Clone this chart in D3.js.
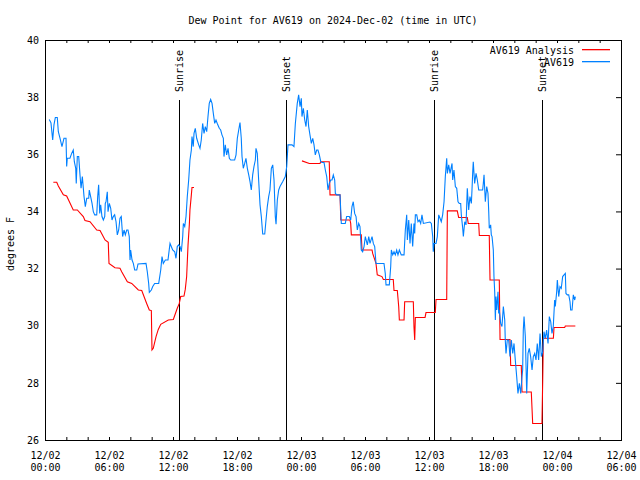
<!DOCTYPE html>
<html><head><meta charset="utf-8">
<script src="https://cdn.jsdelivr.net/npm/d3@7"></script>
<style>body{margin:0;background:#fff}svg{display:block}</style>
</head><body>
<script>
const title = "Dew Point for AV619 on 2024-Dec-02 (time in UTC)";
const yLabel = "degrees F";
const seriesNames = ["AV619 Analysis", "AV619"];
const yTicks = [26, 28, 30, 32, 34, 36, 38, 40];
const xTickHours = [0, 6, 12, 18, 24, 30, 36, 42, 48, 54];
const xTickDates = ["12/02","12/02","12/02","12/02","12/03","12/03","12/03","12/03","12/04","12/04"];
const xTickTimes = ["00:00","06:00","12:00","18:00","00:00","06:00","12:00","18:00","00:00","06:00"];
const eventNames = ["Sunrise", "Sunset", "Sunrise", "Sunset"];
const eventHours = [12.59, 22.62, 36.50, 46.62];

// [hours since 12/02 00:00 UTC, dew point F]
const analysis = [[0.78,35.02],[1.10,35.02],[1.25,34.89],[1.72,34.58],[2.03,34.54],[2.65,34.05],[3.03,34.05],[3.59,33.82],[3.75,33.68],[4.22,33.64],[4.85,33.35],[5.16,33.33],[5.63,33.00],[5.93,32.92],[6.00,32.18],[6.56,32.03],[7.03,32.01],[7.19,31.89],[7.72,31.54],[8.13,31.48],[8.75,31.25],[9.07,31.23],[9.53,30.78],[9.78,30.55],[9.97,30.53],[10.03,29.15],[10.15,29.21],[10.41,29.62],[10.62,29.87],[10.85,30.05],[11.56,30.20],[12.03,30.22],[12.40,30.61],[12.59,30.78],[12.72,31.02],[13.03,31.04],[13.15,31.27],[13.28,31.72],[13.41,32.83],[13.53,33.53],[13.59,34.05],[13.72,34.58],[13.78,34.84],[13.97,34.84],null,
[24.09,35.77],[24.78,35.68],[25.78,35.68],[25.85,35.74],[26.65,35.74],[26.72,34.58],[27.66,34.58],[27.73,33.70],[28.59,33.70],[28.66,33.58],[28.72,33.18],[29.65,33.18],[29.72,32.65],[30.66,32.65],[30.72,32.53],[31.03,32.18],[31.15,31.78],[31.59,31.72],[31.72,31.62],[32.65,31.62],[32.72,31.23],[33.03,31.23],[33.16,30.67],[33.22,30.20],[33.66,30.20],[33.72,30.84],[34.53,30.84],[34.59,29.97],[34.66,29.50],[34.72,30.29],[35.63,30.29],[35.72,30.46],[36.59,30.46],[36.66,30.92],[37.66,30.92],[37.72,34.02],[38.65,34.02],[38.78,33.79],[39.59,33.79],[39.68,33.58],[40.66,33.58],[40.72,33.16],[41.65,33.16],[41.72,31.60],[42.59,31.60],[42.66,29.52],[43.59,29.52],[43.66,28.61],[44.65,28.61],[44.72,27.68],[45.59,27.68],[45.72,26.58],[46.59,26.58],[46.66,28.08],[46.72,29.56],[47.66,29.56],[47.72,29.94],[48.72,29.94],[48.78,29.99],[49.72,29.99]];

const av619 = [[0.40,37.22],[0.56,37.10],[0.72,36.50],[0.84,37.03],[0.97,37.29],[1.15,37.29],[1.25,36.79],[1.41,36.56],[1.59,36.27],[1.78,36.56],[1.97,36.56],[2.03,35.57],[2.09,35.86],[2.34,35.86],[2.50,36.03],[2.65,36.15],[2.75,35.74],[2.88,35.51],[2.93,34.98],[3.03,35.92],[3.16,35.92],[3.28,35.28],[3.38,34.81],[3.50,35.22],[3.66,34.52],[3.78,34.17],[3.91,34.46],[4.10,34.46],[4.15,34.75],[4.28,34.52],[4.41,34.28],[4.53,33.99],[4.66,33.88],[4.85,33.88],[4.94,34.52],[5.03,34.93],[5.13,33.93],[5.22,34.23],[5.34,33.82],[5.47,33.70],[5.60,33.82],[5.65,34.28],[5.72,34.34],[5.84,34.69],[5.91,33.99],[6.03,34.28],[6.16,34.11],[6.28,33.70],[6.40,33.82],[6.53,33.88],[6.66,33.64],[6.78,33.18],[6.91,33.35],[7.03,33.76],[7.15,33.82],[7.28,33.12],[7.41,33.35],[7.53,33.18],[7.66,33.35],[7.78,33.35],[7.90,33.12],[7.97,32.30],[8.03,32.65],[8.16,32.30],[8.28,32.18],[8.41,31.95],[8.60,31.95],[8.72,32.16],[9.47,32.18],[9.59,31.89],[9.72,31.48],[9.78,31.17],[9.97,31.25],[10.10,31.37],[10.28,31.48],[10.66,31.48],[10.85,31.95],[10.97,32.42],[11.09,32.18],[11.28,32.30],[11.53,32.30],[11.72,32.88],[11.84,32.77],[11.97,32.65],[12.16,32.59],[12.28,32.36],[12.40,32.77],[12.53,32.83],[12.66,32.77],[12.78,32.59],[12.91,33.12],[12.97,33.58],[13.10,33.47],[13.22,33.82],[13.34,34.52],[13.47,35.10],[13.59,35.80],[13.72,36.15],[13.78,36.62],[13.90,36.27],[13.97,36.73],[14.09,36.91],[14.22,36.56],[14.41,36.33],[14.53,36.21],[14.65,36.50],[14.78,37.08],[14.91,36.73],[15.03,36.97],[15.16,36.79],[15.28,37.32],[15.40,37.78],[15.53,37.92],[15.66,37.78],[15.78,37.43],[15.91,37.08],[16.03,37.20],[16.15,37.08],[16.34,36.91],[16.47,36.85],[16.59,36.68],[16.72,36.56],[16.78,35.92],[16.90,36.33],[17.03,35.98],[17.16,36.21],[17.28,35.86],[17.41,35.80],[17.78,35.80],[17.91,35.98],[18.03,36.56],[18.16,36.85],[18.28,37.11],[18.40,36.56],[18.47,35.92],[18.59,35.51],[18.72,35.68],[18.84,35.86],[18.97,35.51],[19.10,35.28],[19.22,35.04],[19.34,34.75],[19.47,35.28],[19.59,35.57],[19.72,35.80],[19.78,36.21],[19.90,36.03],[20.03,35.10],[20.16,34.23],[20.28,33.82],[20.41,33.21],[20.60,33.21],[20.72,33.70],[20.84,34.17],[20.97,34.52],[21.09,34.75],[21.22,35.51],[21.35,35.63],[21.47,35.10],[21.59,33.82],[21.66,33.55],[21.78,34.40],[21.91,34.75],[22.03,34.87],[22.28,35.04],[22.53,35.22],[22.66,35.57],[22.78,36.33],[23.16,36.33],[23.34,36.27],[23.47,37.08],[23.65,37.78],[23.78,38.08],[23.91,37.67],[24.03,37.96],[24.09,37.32],[24.22,37.61],[24.35,37.20],[24.47,36.97],[24.59,37.55],[24.72,36.97],[24.84,36.68],[24.97,36.38],[25.10,36.56],[25.22,36.33],[25.34,35.98],[25.47,36.15],[25.59,36.15],[25.72,35.98],[25.85,35.74],[25.97,35.71],[26.16,35.71],[26.28,35.45],[26.41,35.22],[26.53,34.75],[26.65,34.98],[26.78,35.10],[26.91,35.10],[27.03,35.28],[27.16,35.10],[27.22,34.63],[27.35,34.58],[27.66,34.58],[27.78,33.58],[28.15,33.58],[28.28,33.82],[28.53,33.82],[28.66,33.70],[28.78,34.17],[28.90,34.34],[29.03,33.93],[29.16,33.82],[29.28,33.35],[29.41,33.58],[29.53,33.47],[29.65,32.65],[29.78,32.59],[29.91,32.77],[30.03,33.12],[30.22,32.83],[30.35,33.12],[30.47,32.88],[30.66,33.12],[30.78,32.88],[30.91,32.77],[31.03,32.18],[31.78,32.18],[31.90,31.83],[31.97,31.43],[32.28,31.43],[32.41,32.07],[32.47,32.65],[32.60,32.48],[32.72,32.59],[32.84,32.48],[32.97,32.65],[33.09,32.48],[33.22,32.65],[33.40,32.48],[33.66,32.48],[33.78,33.35],[33.91,33.88],[33.97,33.00],[34.10,33.70],[34.22,32.88],[34.34,33.58],[34.47,32.77],[34.59,33.58],[34.66,33.23],[34.72,33.88],[34.85,33.88],[34.97,33.64],[35.09,33.70],[35.22,33.58],[35.34,33.88],[35.47,33.58],[36.09,33.63],[36.22,33.58],[36.35,33.12],[36.40,32.59],[36.47,32.88],[36.66,32.88],[36.78,33.12],[36.91,33.88],[37.03,33.76],[37.15,33.64],[37.28,33.88],[37.41,34.34],[37.53,35.22],[37.66,35.86],[37.72,35.33],[37.85,35.63],[37.97,35.33],[38.16,35.68],[38.22,35.10],[38.34,35.45],[38.47,34.87],[38.60,34.81],[38.72,34.34],[38.84,34.28],[38.97,34.28],[39.03,33.88],[39.16,33.41],[39.22,33.12],[39.35,33.64],[39.47,33.53],[39.59,34.81],[39.72,34.05],[39.84,34.52],[39.97,34.28],[40.03,34.75],[40.10,35.39],[40.15,35.74],[40.28,34.98],[40.41,35.33],[40.53,35.10],[40.66,34.75],[41.03,34.75],[41.09,34.98],[41.16,35.28],[41.28,34.34],[41.41,34.87],[41.53,34.63],[41.60,33.99],[41.65,33.41],[41.78,33.53],[41.84,33.18],[41.91,33.12],[42.03,32.65],[42.09,31.72],[42.16,31.19],[42.22,30.20],[42.28,31.02],[42.35,30.55],[42.47,31.19],[42.53,30.43],[42.59,30.55],[42.72,30.08],[42.84,29.97],[42.97,30.67],[43.10,30.20],[43.15,29.50],[43.22,29.03],[43.34,29.50],[43.47,29.50],[43.59,28.92],[43.72,29.50],[43.85,29.03],[43.97,29.38],[44.09,28.80],[44.22,28.22],[44.34,27.63],[44.47,27.98],[44.60,27.63],[44.72,28.22],[44.78,28.45],[44.84,29.85],[44.91,30.32],[45.03,29.62],[45.16,27.63],[45.28,29.03],[45.40,29.21],[45.53,28.92],[45.66,28.45],[45.78,28.92],[45.91,29.03],[46.03,28.80],[46.15,29.38],[46.28,28.80],[46.41,29.73],[46.53,28.92],[46.66,29.09],[46.78,29.79],[46.90,29.56],[47.03,29.85],[47.16,29.38],[47.28,30.32],[47.41,30.14],[47.53,29.73],[47.65,29.97],[47.78,30.90],[47.84,30.67],[47.97,31.19],[48.03,31.60],[48.16,31.02],[48.28,31.37],[48.40,31.31],[48.53,31.72],[48.66,31.78],[48.78,31.83],[48.84,31.13],[48.97,31.08],[49.10,31.08],[49.22,30.84],[49.28,30.55],[49.41,30.55],[49.53,31.08],[49.66,30.90],[49.72,31.02]];

(function() {
const W = 640, H = 480;
const mLeft = 45, mRight = 621, mTop = 40, mBottom = 440;
const FONT = "'DejaVu Sans Mono', monospace";
const seriesColors = ["#ff0000", "#0080ff"];

const svg = d3.select("body").append("svg").attr("width", W).attr("height", H)
  .style("font-family", FONT).style("font-size", "10px");
svg.append("rect").attr("width", W).attr("height", H).attr("fill", "#fff");

const x = d3.scaleLinear().domain([0, 54]).range([mLeft, mRight]);
const y = d3.scaleLinear().domain([26, 40]).range([mBottom, mTop]);
const minorHours = d3.range(0, 55, 2);

function styleAxis(g) { g.select(".domain").remove(); g.selectAll("line").attr("stroke", "#000"); }
svg.append("g").attr("transform", `translate(0,${mBottom})`)
  .call(d3.axisBottom(x).tickValues(minorHours.slice(1, -1)).tickSize(-3).tickFormat("")).call(styleAxis);
svg.append("g").attr("transform", `translate(0,${mTop})`)
  .call(d3.axisTop(x).tickValues(minorHours.slice(1, -1)).tickSize(-3).tickFormat("")).call(styleAxis);
svg.append("g").attr("transform", `translate(${mRight},0)`)
  .call(d3.axisRight(y).tickValues(yTicks.slice(1, -1)).tickSize(-5).tickFormat("")).call(styleAxis);

// x labels
const xl = svg.append("g").attr("transform", `translate(0,${mBottom})`)
  .call(d3.axisBottom(x).tickValues(xTickHours).tickSize(0).tickFormat((d, i) => xTickDates[i]));
xl.select(".domain").remove();
xl.selectAll("text").attr("fill", "#000").style("font-family", FONT).style("font-size", "10px")
  .attr("y", 15).attr("dy", null)
  .each(function(d, i) {
    const t = d3.select(this); t.text(null);
    t.append("tspan").attr("x", 0).attr("dy", "0.35em").text(xTickDates[i]);
    t.append("tspan").attr("x", 0).attr("dy", "12").text(xTickTimes[i]);
  });

// y labels
const yl = svg.append("g").attr("transform", `translate(${mLeft},0)`)
  .call(d3.axisLeft(y).tickValues(yTicks).tickSize(0).tickPadding(6));
yl.select(".domain").remove();
yl.selectAll("text").attr("fill", "#000").style("font-family", FONT).style("font-size", "10px");

// frame
svg.append("rect").attr("x", mLeft + 0.5).attr("y", mTop + 0.5)
  .attr("width", mRight - mLeft).attr("height", mBottom - mTop)
  .attr("fill", "none").attr("stroke", "#000").attr("shape-rendering", "crispEdges");

// title & y label
svg.append("text").attr("x", 333).attr("y", 20).attr("dy", "0.35em").attr("text-anchor", "middle").text(title);
svg.append("text").attr("transform", "translate(10,244) rotate(-90)").attr("dy", "0.35em")
  .attr("text-anchor", "middle").text(yLabel);

// sunrise/sunset lines
eventHours.forEach((h, i) => {
  const xp = Math.round(x(h)) + 0.5;
  svg.append("line").attr("x1", xp).attr("x2", xp).attr("y1", 100).attr("y2", mBottom)
    .attr("stroke", "#000").attr("shape-rendering", "crispEdges");
  svg.append("text").attr("transform", `translate(${xp},92) rotate(-90)`).attr("dy", "0.35em")
    .attr("text-anchor", "start").text(eventNames[i]);
});

// series
const line = d3.line().defined(d => d).x(d => x(d[0])).y(d => y(d[1]));
svg.append("path").datum(analysis).attr("d", line).attr("fill", "none").attr("stroke", seriesColors[0]).attr("stroke-width", 1.1);
svg.append("path").datum(av619).attr("d", line).attr("fill", "none").attr("stroke", seriesColors[1]).attr("stroke-width", 1.1);

// legend
const leg = svg.append("g").attr("class", "legend");
const items = leg.selectAll("g").data(seriesNames).join("g")
  .attr("transform", (d, i) => `translate(0,${50 + i * 12})`);
items.append("text").attr("x", 574).attr("dy", "0.35em").attr("text-anchor", "end").text(d => d);
items.append("rect").attr("x", 582).attr("y", -1).attr("width", 28).attr("height", 1.3)
  .attr("fill", (d, i) => seriesColors[i]);
})();
</script>
</body></html>
